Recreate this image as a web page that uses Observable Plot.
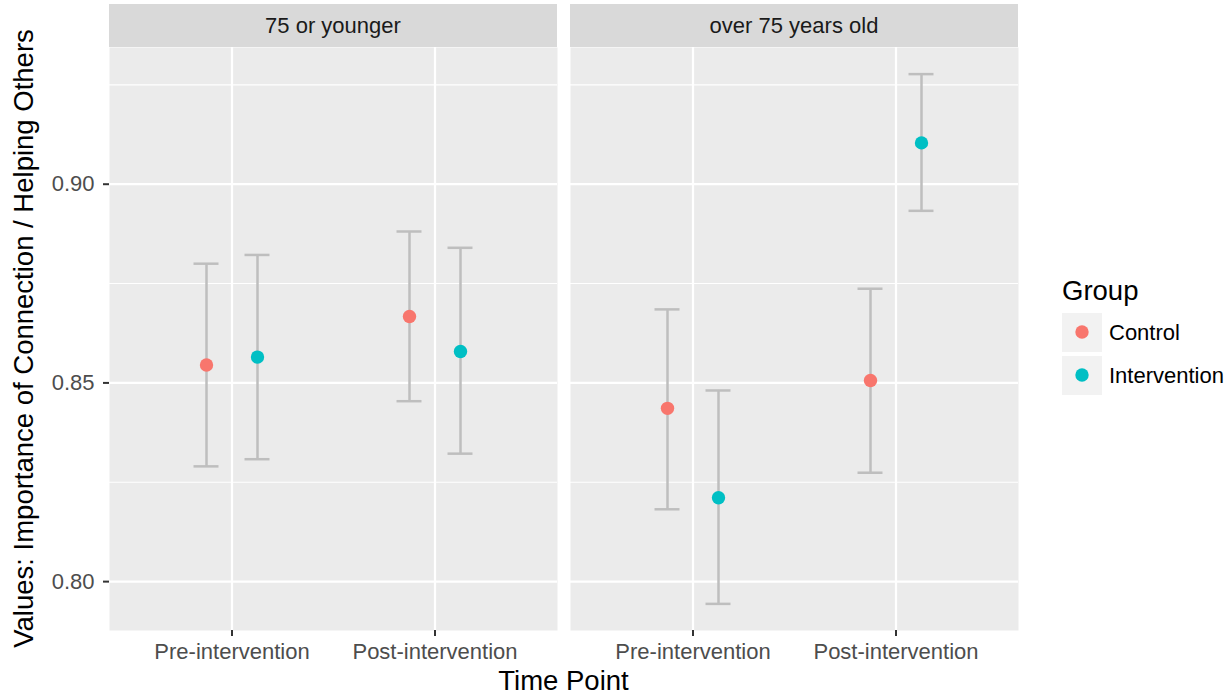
<!DOCTYPE html>
<html><head><meta charset="utf-8">
<script src="https://cdn.jsdelivr.net/npm/d3@7"></script>
<script src="https://cdn.jsdelivr.net/npm/@observablehq/plot@0.6"></script>
<style>
body{margin:0;background:#fff;font-family:"Liberation Sans",Arial,sans-serif;}
#wrap{position:relative;width:1230px;height:698px;overflow:hidden;}
</style></head><body><div id="wrap"></div>
<script>
// ---- data ----
const ageGroups = ["75 or younger", "over 75 years old"];
const timePoints = ["Pre-intervention", "Post-intervention"];
const groups = ["Control", "Intervention"];
const groupColors = ["#F8766D", "#00BFC4"];
// order: age group -> time point -> group
const rowAge   = ["75 or younger","75 or younger","75 or younger","75 or younger","over 75 years old","over 75 years old","over 75 years old","over 75 years old"];
const rowTime  = ["Pre-intervention","Pre-intervention","Post-intervention","Post-intervention","Pre-intervention","Pre-intervention","Post-intervention","Post-intervention"];
const rowGroup = ["Control","Intervention","Control","Intervention","Control","Intervention","Control","Intervention"];
const meanVals  = [0.8545, 0.8565, 0.8667, 0.8579, 0.8436, 0.8211, 0.8506, 0.9104];
const lowerVals = [0.8290, 0.8308, 0.8454, 0.8322, 0.8182, 0.7944, 0.8274, 0.8933];
const upperVals = [0.8800, 0.8822, 0.8881, 0.8840, 0.8685, 0.8481, 0.8737, 0.9277];
const yMajor = [0.80, 0.85, 0.90];
const yMinor = [0.825, 0.875, 0.925];
const yTickLabels = ["0.80", "0.85", "0.90"];
const yTitle = "Values: Importance of Connection / Helping Others";
const xTitle = "Time Point";
const legendTitle = "Group";

const rows = meanVals.map((m, i) => ({age: rowAge[i], time: rowTime[i], group: rowGroup[i], mean: m, lo: lowerVals[i], hi: upperVals[i]}));

// ---- style ----
const FONT = "Liberation Sans, Arial, sans-serif";
const W = 1230, H = 698;
const mL = 108, mR = 212, mT = 47, mB = 68;
const dodge = {Control: -25.5, Intervention: 25.5};
const errColor = "#BEBEBE";
const smallFont = 22, bigFont = 27.5;

const marks = [
  Plot.frame({fill: "#EBEBEB", stroke: null}),
  Plot.gridY(yMinor, {stroke: "white", strokeOpacity: 1, strokeWidth: 1.1}),
  Plot.gridY(yMajor, {stroke: "white", strokeOpacity: 1, strokeWidth: 2.2}),
  Plot.gridX(timePoints, {stroke: "white", strokeOpacity: 1, strokeWidth: 2.2}),
];
groups.forEach((g) => {
  const sub = rows.filter(r => r.group === g);
  marks.push(
    Plot.ruleX(sub, {fx: "age", x: "time", y1: "lo", y2: "hi", dx: dodge[g], stroke: errColor, strokeWidth: 2.5}),
    Plot.tickY(sub, {fx: "age", x: "time", y: "lo", dx: dodge[g], stroke: errColor, strokeWidth: 2.5}),
    Plot.tickY(sub, {fx: "age", x: "time", y: "hi", dx: dodge[g], stroke: errColor, strokeWidth: 2.5})
  );
});
groups.forEach((g, gi) => {
  const sub = rows.filter(r => r.group === g);
  marks.push(Plot.dot(sub, {fx: "age", x: "time", y: "mean", dx: dodge[g], r: 6.7, fill: groupColors[gi], stroke: null}));
});
marks.push(
  Plot.axisY(yMajor, {tickSize: 6, tickPadding: 9, stroke: "#333333", strokeWidth: 2, fill: "#4D4D4D", fontSize: smallFont,
    tickFormat: d => yTickLabels[yMajor.indexOf(d)], label: null}),
  Plot.axisX({tickSize: 6, tickPadding: 7, stroke: "#333333", strokeWidth: 2, fill: "#4D4D4D", fontSize: smallFont, label: null})
);

const chart = Plot.plot({
  width: W, height: H,
  marginLeft: mL, marginRight: mR, marginTop: mT, marginBottom: mB,
  style: {fontFamily: FONT, fontSize: smallFont + "px", background: "white", overflow: "visible"},
  fx: {domain: ageGroups, paddingInner: 13.5 / 462, paddingOuter: 0, axis: null, label: null},
  x: {type: "band", domain: timePoints, paddingInner: 0.8772, paddingOuter: 0.5388, align: 0.5, axis: null, label: null},
  y: {domain: [0.7877, 0.9344], axis: null, label: null},
  marks
});
document.getElementById("wrap").appendChild(chart);

// ---- strips, titles (positioned from Plot's fx scale) ----
const svg = d3.select(chart);
const fx = chart.scale("fx");
const bw = fx.bandwidth;
const strips = svg.append("g");
ageGroups.forEach(a => {
  const x0 = fx.apply(a);
  strips.append("rect").attr("x", x0).attr("y", 4).attr("width", bw).attr("height", mT - 4).attr("fill", "#D9D9D9");
  strips.append("text").attr("x", x0 + bw / 2).attr("y", 33).attr("text-anchor", "middle")
    .attr("fill", "#1A1A1A").style("font-size", smallFont + "px").style("font-family", FONT).text(a);
});
const left = fx.apply(ageGroups[0]);
const right = fx.apply(ageGroups[ageGroups.length - 1]) + bw;
svg.append("text").attr("x", (left + right) / 2).attr("y", 690).attr("text-anchor", "middle")
  .attr("fill", "black").style("font-size", bigFont + "px").style("font-family", FONT).text(xTitle);
svg.append("text").attr("transform", `translate(33,${(mT + H - mB) / 2}) rotate(-90)`).attr("text-anchor", "middle")
  .attr("fill", "black").style("font-size", bigFont + "px").style("font-family", FONT).text(yTitle);

// ---- legend ----
const lg = svg.append("g").attr("transform", "translate(1062,0)").attr("text-anchor", "start");
lg.append("text").attr("x", 0).attr("y", 300).attr("text-anchor", "start").attr("fill", "black")
  .style("font-size", bigFont + "px").style("font-family", FONT).text(legendTitle);
groups.forEach((g, i) => {
  const y0 = 313 + i * 43;
  lg.append("rect").attr("x", 0).attr("y", y0).attr("width", 40).attr("height", 39).attr("fill", "#F2F2F2");
  lg.append("circle").attr("cx", 20).attr("cy", y0 + 19).attr("r", 6.7).attr("fill", groupColors[i]);
  lg.append("text").attr("x", 47).attr("y", y0 + 27).attr("text-anchor", "start").attr("fill", "black")
    .style("font-size", smallFont + "px").style("font-family", FONT).text(g);
});
</script></body></html>
